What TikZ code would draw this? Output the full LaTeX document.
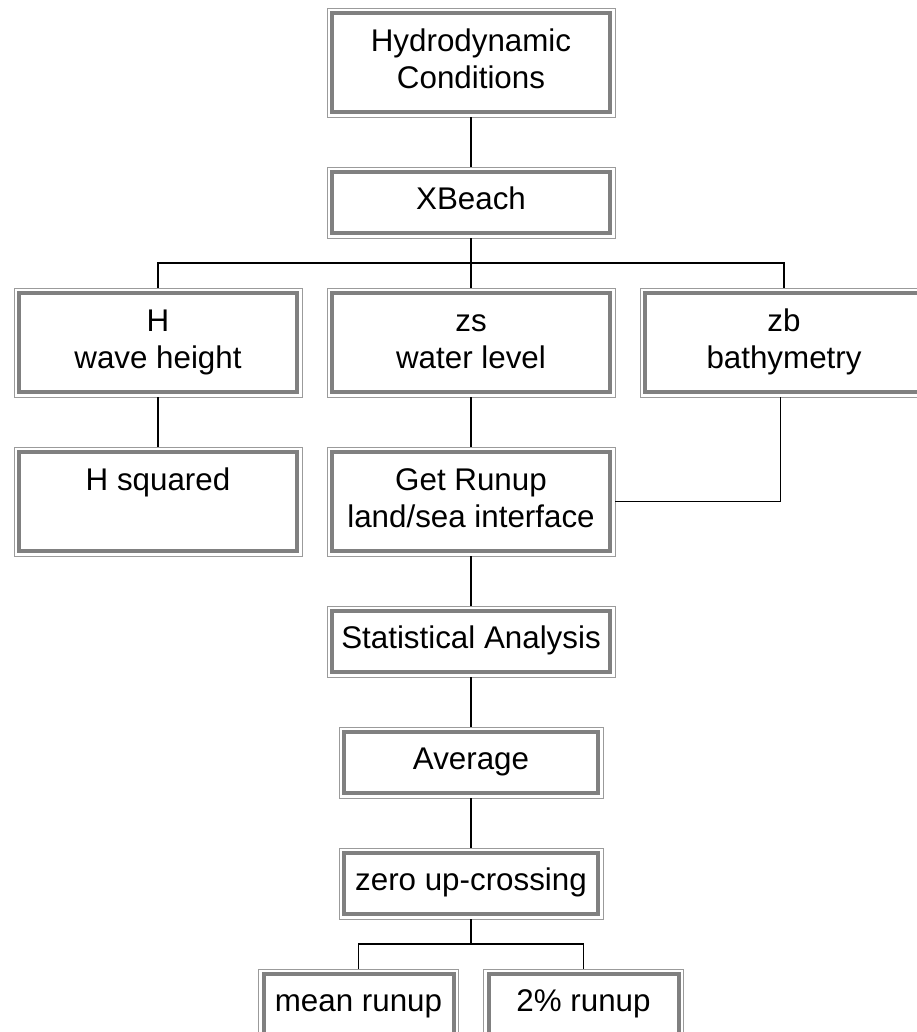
\documentclass[tikz,border=0pt]{standalone}
\usepackage{fontspec}
\setmainfont{Liberation Sans}
\usetikzlibrary{calc,positioning}
\definecolor{rimgray}{RGB}{155,155,155}
\definecolor{framegray}{RGB}{128,128,128}
\begin{document}
\begin{tikzpicture}[x=0.75pt,y=-0.75pt,font=\fontsize{23.5}{27.5}\selectfont,node distance=37.5pt and 18.75pt]
\tikzset{box/.style={draw=rimgray,line width=0.75pt,inner sep=0pt,outer sep=0pt,
minimum width=216pt,minimum height=53.25pt,align=center,execute at end node=\strut},
tall/.style={minimum height=81.75pt},
frame/.style={draw=framegray,line width=3pt},
link/.style={line width=1.1pt}}
\useasboundingbox (0,0) rectangle (917,1032);
\clip (0,0) rectangle (917,1032);
\node[box,tall] (hc) at (471,62.5) {\strut Hydrodynamic\\Conditions};
\node[box,below=of hc] (xb) {XBeach};
\node[box,tall,below=of xb] (zs) {\strut zs\\water level};
\node[box,tall,left=of zs] (h) {\strut H\\wave height};
\node[box,tall,right=of zs] (zb) {\strut zb\\bathymetry};
\node[box,tall,below=of zs] (ru) {\strut Get Runup\\land/sea interface};
\node[box,tall,below=of h] (hsq) {\strut H squared\\~};
\node[box,below=of ru] (sa) {Statistical Analysis};
\node[box,below=of sa,minimum width=198pt] (av) {Average};
\node[box,below=of av,minimum width=198pt] (zu) {zero up-crossing};
\node[box,below=of zu,xshift=-84.375pt,minimum width=150pt] (mr) {mean runup};
\node[box,below=of zu,xshift=84.375pt,minimum width=150pt] (pr) {2\% runup};
% inner thick frame of each box
\foreach \n in {hc,xb,h,zs,zb,hsq,ru,sa,av,zu,mr,pr}
  \draw[frame] ([shift={(3.75pt,-3.75pt)}]\n.north west) rectangle ([shift={(-3.75pt,3.75pt)}]\n.south east);
\coordinate (top split) at ($(xb.south)!0.5!(zs.north)$);
\coordinate (low split) at ($(zu.south)!0.5!(zu.south|-mr.north)$);
\draw[link] (hc) -- (xb);
\draw[link] (xb) -- (zs);
\draw[link] (top split) -| (h);
\draw[link] (top split) -| (zb);
\draw[link] (h) -- (hsq);
\draw[link] (zs) -- (ru);
\draw[link] ([xshift=-2.6pt]zb.south) |- (ru);
\draw[link] (ru) -- (sa);
\draw[link] (sa) -- (av);
\draw[link] (av) -- (zu);
\draw[link] (zu) -- (low split);
\draw[link] (low split) -| (mr);
\draw[link] (low split) -| (pr);
\end{tikzpicture}
\end{document}
